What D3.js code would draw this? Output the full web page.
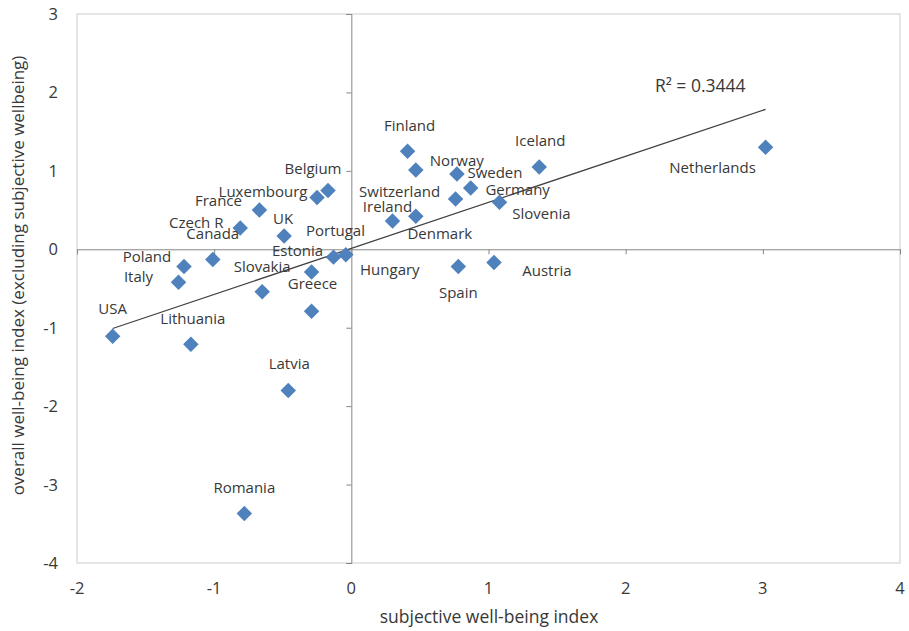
<!DOCTYPE html>
<html>
<head>
<meta charset="utf-8">
<script src="https://cdn.jsdelivr.net/npm/d3@7"></script>
<style>
  body { margin: 0; background: #fff; }
  svg { display: block; font-family: "Open Sans", sans-serif; }
</style>
</head>
<body>
<div id="chart"></div>
<script>
const countries = [
  "USA", "Lithuania", "Latvia", "Romania", "Italy", "Poland", "Canada",
  "Czech R", "France", "Luxembourg", "Belgium", "UK", "Portugal", "Estonia",
  "Slovakia", "Greece", "Hungary", "Finland", "Norway", "Sweden", "Germany",
  "Switzerland", "Ireland", "Denmark", "Slovenia", "Iceland", "Netherlands",
  "Austria", "Spain"
];
const subjective = [
  -1.74, -1.17, -0.46, -0.78, -1.26, -1.22, -1.01,
  -0.81, -0.67, -0.25, -0.17, -0.49, -0.13, -0.29,
  -0.65, -0.29, -0.04, 0.41, 0.47, 0.77, 0.87,
  0.76, 0.30, 0.47, 1.08, 1.37, 3.02,
  1.04, 0.78
];
const overall = [
  -1.11, -1.21, -1.80, -3.37, -0.42, -0.22, -0.13,
  0.27, 0.50, 0.66, 0.75, 0.17, -0.10, -0.29,
  -0.54, -0.79, -0.07, 1.25, 1.01, 0.96, 0.78,
  0.64, 0.36, 0.42, 0.60, 1.05, 1.30,
  -0.17, -0.22
];
const xTicks = [-2, -1, 0, 1, 2, 3, 4];
const yTicks = [-4, -3, -2, -1, 0, 1, 2, 3];
const rSquaredLabel = "R\u00B2 = 0.3444";

// label placement (pixels from the marker; text centred, dy = baseline)
const labelOffset = {
  "USA": [0, -22], "Lithuania": [2, -20], "Latvia": [1, -21], "Romania": [0, -21],
  "Italy": [-40, 0], "Poland": [-37, -5], "Canada": [0, -20], "Czech R": [-44, 0],
  "France": [-41, -4], "Luxembourg": [-54, -1], "Belgium": [-15, -16], "UK": [-1, -12],
  "Portugal": [2, -21], "Estonia": [-14, -16], "Slovakia": [0, -20], "Greece": [1, -22],
  "Hungary": [44, 20], "Finland": [2, -20], "Norway": [41, -4], "Sweden": [38, 4],
  "Germany": [47, 7], "Switzerland": [-56, -2], "Ireland": [-5, -9], "Denmark": [24, 23],
  "Slovenia": [42, 17], "Iceland": [1, -21], "Netherlands": [-53, 26], "Austria": [53, 13],
  "Spain": [0, 31]
};

function drawScatter(container, width, height) {
  d3.select(container).selectAll("*").remove();
  const svg = d3.select(container).append("svg")
    .attr("width", width)
    .attr("height", height);

  const margin = { left: 77, right: 9, top: 14, bottom: 68 };
  const x = d3.scaleLinear().domain([-2, 4]).range([margin.left, width - margin.right]);
  const y = d3.scaleLinear().domain([-4, 3]).range([height - margin.bottom, margin.top]);

  const axisColor = "#868686";
  const textColor = "#383838";

  // plot frame
  svg.append("rect")
    .attr("x", x(-2)).attr("y", y(3))
    .attr("width", x(4) - x(-2)).attr("height", y(-4) - y(3))
    .attr("fill", "none").attr("stroke", "#d4d4d4").attr("stroke-width", 1.2);

  // zero axes crossing in the middle, ticks without labels
  const xAxis = d3.axisBottom(x).tickValues(xTicks).tickSize(5).tickFormat("");
  const yAxis = d3.axisLeft(y).tickValues(yTicks).tickSize(5).tickFormat("");
  const gx = svg.append("g").attr("transform", `translate(0,${y(0)})`).call(xAxis);
  const gy = svg.append("g").attr("transform", `translate(${x(0)},0)`).call(yAxis);
  [gx, gy].forEach((g) => {
    g.select(".domain").attr("stroke", axisColor);
    g.selectAll(".tick line").attr("stroke", axisColor);
  });

  // tick labels along the frame
  svg.append("g").selectAll("text").data(xTicks).join("text")
    .attr("x", (d) => x(d))
    .attr("y", y(-4) + 31)
    .attr("text-anchor", "middle")
    .attr("font-size", 16.5)
    .attr("fill", textColor)
    .text((d) => d);
  svg.append("g").selectAll("text").data(yTicks).join("text")
    .attr("x", x(-2) - 19)
    .attr("y", (d) => y(d) + 6)
    .attr("text-anchor", "end")
    .attr("font-size", 16.5)
    .attr("fill", textColor)
    .text((d) => d);

  // axis titles
  svg.append("text")
    .attr("x", 489)
    .attr("y", height - 8)
    .attr("text-anchor", "middle")
    .attr("font-size", 17.5)
    .attr("fill", textColor)
    .text("subjective well-being index");
  svg.append("text")
    .attr("transform", `translate(24,${(y(3) + y(-4)) / 2 - 13}) rotate(-90)`)
    .attr("text-anchor", "middle")
    .attr("font-size", 17)
    .attr("fill", textColor)
    .text("overall well-being index (excluding subjective wellbeing)");

  const data = countries.map((c, i) => ({ name: c, sx: subjective[i], oy: overall[i] }));

  // linear trendline (least squares)
  const mx = d3.mean(subjective), my = d3.mean(overall);
  const slope = d3.sum(data, (d) => (d.sx - mx) * (d.oy - my)) /
    d3.sum(data, (d) => (d.sx - mx) ** 2);
  const intercept = my - slope * mx;
  const ext = d3.extent(subjective);
  const trend = ext.map((v) => [v, intercept + slope * v]);
  svg.append("path")
    .datum(trend)
    .attr("d", d3.line().x((d) => x(d[0])).y((d) => y(d[1])))
    .attr("stroke", "#404040")
    .attr("stroke-width", 1.3)
    .attr("fill", "none");

  svg.append("text")
    .attr("x", x(ext[1]) - 20)
    .attr("y", y(trend[1][1]) - 17)
    .attr("text-anchor", "end")
    .attr("font-size", 17.5)
    .attr("fill", textColor)
    .text(rSquaredLabel);

  // diamond markers
  const diamond = d3.symbol().type(d3.symbolSquare).size(120);
  svg.append("g").selectAll("path").data(data).join("path")
    .attr("d", diamond)
    .attr("transform", (d) => `translate(${x(d.sx)},${y(d.oy)}) rotate(45)`)
    .attr("fill", "#4F81BD");

  // country labels
  svg.append("g").selectAll("text").data(data).join("text")
    .attr("x", (d) => x(d.sx) + labelOffset[d.name][0])
    .attr("y", (d) => y(d.oy) + labelOffset[d.name][1])
    .attr("text-anchor", "middle")
    .attr("font-size", 15)
    .attr("fill", textColor)
    .text((d) => d.name);

  return svg.node();
}

drawScatter("#chart", 909, 631);
</script>
</body>
</html>
